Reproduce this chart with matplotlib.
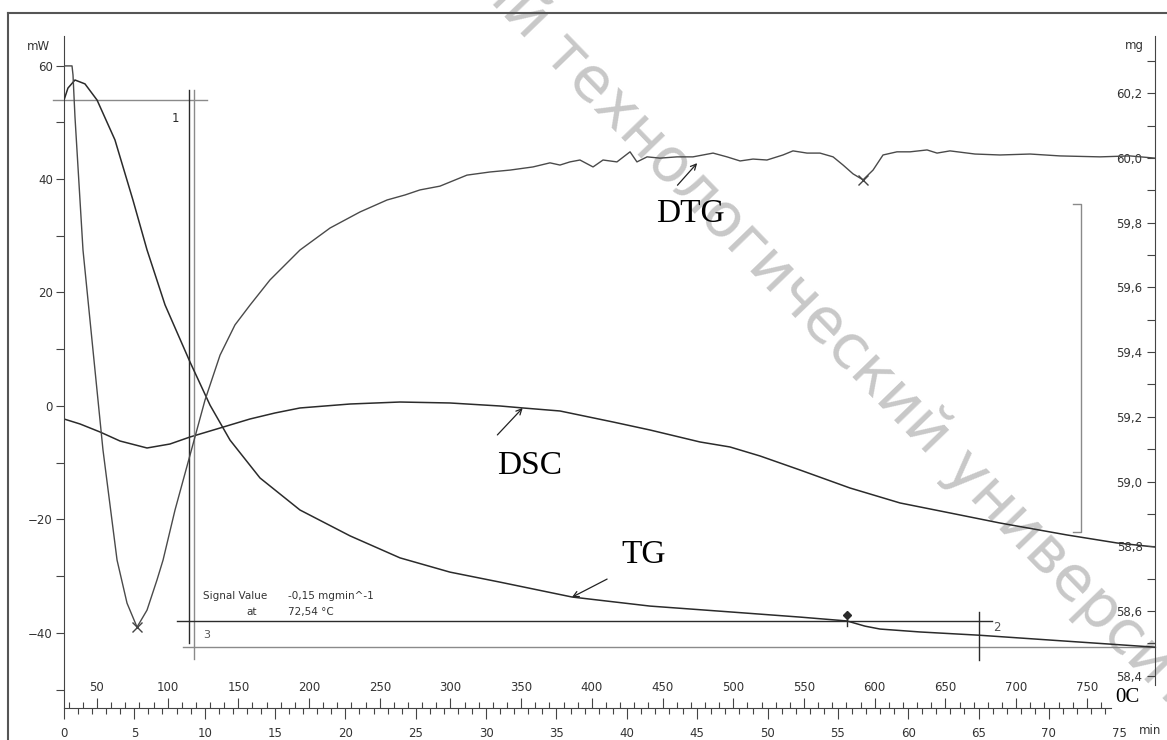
import matplotlib
matplotlib.use("Agg")
import matplotlib.pyplot as plt
import matplotlib.ticker as mticker
from matplotlib.lines import Line2D
import numpy as np

# ---------------- data ----------------
dsc_time = [0.00, 1.14, 2.56, 3.98, 5.90, 7.53, 8.96, 11.09, 13.22, 15.0, 16.77,
            20.33, 23.88, 27.43, 30.99, 32.62, 35.25, 39.02, 41.65, 45.20, 47.33,
            49.47, 52.31, 55.86, 59.42, 62.97, 66.52, 71.29, 74.84, 77.54]
dsc_mw = [-2.29, -3.17, -4.58, -6.17, -7.40, -6.70, -5.46, -3.88, -2.29, -1.23, -0.35,
          0.35, 0.70, 0.53, 0.00, -0.35, -0.88, -2.82, -4.23, -6.34, -7.22,
          -8.81, -11.28, -14.45, -17.09, -18.85, -20.62, -22.73, -24.14, -24.85]

tg_time = [0.00, 0.28, 0.78, 1.49, 2.35, 3.62, 4.90, 5.90, 7.18, 8.96, 10.38, 11.80,
           13.93, 16.77, 20.33, 23.88, 27.43, 30.99, 36.11, 41.65, 47.33, 52.31,
           55.65, 56.93, 58.00, 60.84, 65.03, 70.08, 77.54]
tg_mg = [60.179, 60.216, 60.241, 60.229, 60.179, 60.056, 59.870, 59.716, 59.546,
         59.369, 59.236, 59.128, 59.011, 58.912, 58.832, 58.764, 58.720, 58.689,
         58.643, 58.615, 58.597, 58.581, 58.569, 58.553, 58.544, 58.535, 58.525,
         58.510, 58.488]

dtg_time = [0.00, 0.57, 0.64, 0.78, 1.35, 2.06, 2.77, 3.77, 4.48, 5.19, 5.90, 6.61,
            7.04, 7.89, 8.96, 10.02, 11.09, 12.15, 13.22, 14.64, 16.77, 18.91, 21.04,
            22.96, 24.24, 25.30, 26.72, 28.64, 30.28, 31.70, 33.33, 34.54, 35.25,
            35.96, 36.67, 37.60, 38.31, 39.30, 40.23, 40.72, 41.44, 42.36, 43.57,
            44.70, 46.13, 47.12, 48.05, 48.97, 49.96, 51.10, 51.81, 52.81, 53.73,
            54.66, 55.37, 56.08, 56.79, 57.50, 58.21, 59.20, 60.13, 61.34, 62.05,
            62.97, 64.75, 66.52, 68.66, 70.79, 73.63, 75.76, 77.54]
dtg_val = [0.0283, 0.0283, 0.0254, 0.0121, -0.0302, -0.0620, -0.0937, -0.1287,
           -0.1424, -0.1500, -0.1446, -0.1350, -0.1287, -0.1128, -0.0953, -0.0779,
           -0.0636, -0.0540, -0.0477, -0.0397, -0.0302, -0.0232, -0.0181, -0.0143,
           -0.0127, -0.0111, -0.0099, -0.0064, -0.0054, -0.0048, -0.0038, -0.0025,
           -0.0032, -0.0022, -0.0016, -0.0038, -0.0016, -0.0022, 0.0010, -0.0022,
           -0.0006, -0.0010, -0.0006, -0.0006, 0.0006, -0.0006, -0.0019, -0.0013,
           -0.0016, 0.0000, 0.0013, 0.0006, 0.0006, -0.0006, -0.0032, -0.0060,
           -0.0079, -0.0048, 0.0000, 0.0010, 0.0010, 0.0016, 0.0006, 0.0013,
           0.0003, 0.0000, 0.0003, -0.0003, -0.0006, -0.0003, -0.0010]

mw_ticks = [-40, -20, 0, 20, 40, 60]
mg_ticks = [58.4, 58.6, 58.8, 59.0, 59.2, 59.4, 59.6, 59.8, 60.0, 60.2]
mg_labels = ["58,4", "58,6", "58,8", "59,0", "59,2", "59,4", "59,6", "59,8", "60,0", "60,2"]
time_ticks = list(range(0, 80, 5))
temp_ticks = list(range(50, 800, 50))

# ---------------- figure / layout ----------------
W, H = 1167, 740
fig = plt.figure(figsize=(W / 100, H / 100), dpi=100)
fig.patch.set_facecolor("white")


def fx(px):
    return px / W


def fy(py):
    return 1 - py / H


L, R, T, B = 64, 1155, 36, 708
MG_LIM = (58.300, 60.377)
ax = fig.add_axes([fx(L), fy(B), fx(R) - fx(L), fy(T) - fy(B)])
ax.patch.set_visible(False)
ax.set_xlim(0, 77.54)
ax.set_ylim(-53.22, 65.20)

INK = "#2b2b2b"
GRAY = "#8a8a8a"
TXT = "#333333"
SP = "#444444"

for s in ("top", "right"):
    ax.spines[s].set_visible(False)
ax.spines["left"].set_color(SP)
ax.spines["bottom"].set_color(SP)
ax.spines["bottom"].set_bounds(0, 74.4)

ax.yaxis.set_major_locator(mticker.FixedLocator(mw_ticks))
ax.yaxis.set_minor_locator(mticker.FixedLocator(list(range(-50, 61, 10))))
ax.tick_params(axis="y", which="both", length=6, width=0.8, color=SP,
               labelsize=8.5, labelcolor=TXT, pad=2)

ax.xaxis.set_major_locator(mticker.FixedLocator(time_ticks))
ax.xaxis.set_minor_locator(mticker.FixedLocator(list(range(0, 75))))
ax.tick_params(axis="x", which="major", length=8, width=0.8, color=SP,
               labelsize=8.5, labelcolor=TXT, pad=6)
ax.tick_params(axis="x", which="minor", length=4, width=0.8, color=SP)
fig.canvas.draw()
ax.xaxis.get_major_ticks()[-1].tick1line.set_visible(False)

# temperature scale on the same base line, ticks pointing up
axT = fig.add_axes([fx(L), fy(B), fx(R) - fx(L), 1e-6])
axT.patch.set_visible(False)
for s in axT.spines.values():
    s.set_visible(False)
axT.set_xlim(26.7, 26.7 + 9.95 * 77.54)
axT.set_yticks([])
axT.xaxis.tick_top()
axT.xaxis.set_major_locator(mticker.FixedLocator(temp_ticks))
axT.xaxis.set_minor_locator(mticker.FixedLocator(list(range(30, 770, 10))))
axT.tick_params(axis="x", which="major", length=7, width=0.8, color=SP,
                labelsize=8.5, labelcolor=TXT, pad=3, top=True, bottom=False,
                labeltop=True, labelbottom=False)
axT.tick_params(axis="x", which="minor", length=4, width=0.8, color=SP,
                top=True, bottom=False)

# TG (mg): curve on a twin, scale drawn as an inward axis at the right edge
ax2 = ax.twinx()
ax2.set_ylim(*MG_LIM)
for s in ax2.spines.values():
    s.set_visible(False)
ax2.set_yticks([])

axR = fig.add_axes([fx(R), fy(B), 1e-6, fy(T) - fy(B)])
axR.patch.set_visible(False)
axR.set_ylim(*MG_LIM)
for s in ("top", "right", "bottom"):
    axR.spines[s].set_visible(False)
axR.spines["left"].set_color(SP)
axR.spines["left"].set_bounds(58.371, MG_LIM[1])
axR.set_xticks([])
axR.yaxis.set_major_locator(mticker.FixedLocator(mg_ticks))
axR.yaxis.set_major_formatter(mticker.FixedFormatter(mg_labels))
axR.yaxis.set_minor_locator(mticker.FixedLocator([58.5, 58.7, 58.9, 59.1, 59.3, 59.5,
                                                  59.7, 59.9, 60.1, 60.3]))
axR.tick_params(axis="y", which="both", length=6, width=0.8, color=SP,
                labelsize=8.5, labelcolor=TXT, pad=3)

# DTG on a hidden scale
ax3 = ax.twinx()
ax3.set_ylim(-0.1757, 0.0378)
for s in ax3.spines.values():
    s.set_visible(False)
ax3.set_yticks([])

# ---------------- curves ----------------
ax.plot(dsc_time, dsc_mw, color=INK, lw=1.1)
ax2.plot(tg_time, tg_mg, color=INK, lw=1.1)
ax3.plot(dtg_time, dtg_val, color="#4a4a4a", lw=1.0)

dt = np.array(dtg_time)
dv = np.array(dtg_val)
i1 = int(np.argmin(dv))
mask = dt > 50
i2 = int(np.where(mask)[0][np.argmin(dv[mask])])
ax3.plot([dt[i1], dt[i2]], [dv[i1], dv[i2]], ls="none", marker="x", ms=7,
         mew=1.0, color="#444")

# TG step marker
it = tg_time.index(55.65)
ax2.plot([tg_time[it], tg_time[it]], [tg_mg[it] + 0.019, tg_mg[it] - 0.016],
         color=INK, lw=1.0)
ax2.plot([tg_time[it]], [tg_mg[it] + 0.019], marker="D", ms=4, color=INK)

# ---------------- construction lines ----------------
kw = dict(clip_on=False, lw=1.0)
ax.plot([-0.78, 10.16], [53.9, 53.9], color=GRAY, **kw)
ax.plot([8.88, 8.88], [55.7, -41.8], color=INK, **kw)
ax.plot([9.24, 9.24], [55.7, -44.6], color=GRAY, **kw)
ax.plot([8.03, 65.96], [-37.9, -37.9], color=INK, **kw)
ax.plot([8.46, 77.54], [-42.5, -42.5], color=GRAY, **kw)
ax.plot([65.03, 65.03], [-36.3, -44.8], color=INK, **kw)
ax.plot([71.71, 72.28, 72.28, 71.71], [35.6, 35.6, -22.2, -22.2], color=GRAY, **kw)

ax.text(7.89, 50.7, "1", fontsize=8.5, color=INK, ha="center", va="center")
ax.text(9.88, -40.4, "3", fontsize=8, color="#555", ha="left", va="center")
ax.text(66.0, -39.1, "2", fontsize=8.5, color="#555", ha="left", va="center")

ax.text(9.88, -33.5, "Signal Value", fontsize=7.5, color=TXT, ha="left", va="center")
ax.text(15.92, -33.5, "-0,15 mgmin^-1", fontsize=7.5, color=TXT, ha="left", va="center")
ax.text(13.36, -36.3, "at", fontsize=7.5, color=TXT, ha="center", va="center")
ax.text(15.92, -36.3, "72,54 °C", fontsize=7.5, color=TXT, ha="left", va="center")

# ---------------- curve labels ----------------
serif = "Liberation Serif"
ax.text(44.5, 33.8, "DTG", family=serif, fontsize=24, color="black",
        ha="center", va="center")
ax.text(33.1, -10.6, "DSC", family=serif, fontsize=24, color="black",
        ha="center", va="center")
ax.text(41.2, -26.3, "TG", family=serif, fontsize=24, color="black",
        ha="center", va="center")
ap = dict(arrowstyle="->", color="#222", lw=0.9, shrinkA=0, shrinkB=0)
ax.annotate("", xy=(45.0, 42.8), xytext=(43.6, 38.9), arrowprops=ap)
ax.annotate("", xy=(32.6, -0.35), xytext=(30.8, -5.1), arrowprops=ap)
ax.annotate("", xy=(36.1, -33.7), xytext=(38.6, -30.5), arrowprops=ap)

# axis units
fig.text(fx(38), fy(46), "mW", fontsize=8.5, color=TXT, ha="center", va="center")
fig.text(fx(1134), fy(46), "mg", fontsize=8.5, color=TXT, ha="center", va="center")
fig.text(fx(1150), fy(730), "min", fontsize=8.5, color=TXT, ha="center", va="center")
fig.text(fx(1127), fy(698), "0C", family=serif, fontsize=15, color="black",
         ha="center", va="center")

# outer frame
fig.add_artist(Line2D([fx(8), 1.0], [fy(13), fy(13)], transform=fig.transFigure,
                      color="#555", lw=1.5))
fig.add_artist(Line2D([fx(8), fx(8)], [fy(13), 0.0], transform=fig.transFigure,
                      color="#555", lw=1.5))

# watermark
fig.text(fx(484), fy(-27), "ий технологический университет", fontsize=44,
         color="#c8c8c8", rotation=-46, rotation_mode="anchor", ha="left",
         va="center", zorder=-1)

fig.savefig("out.png", dpi=100, facecolor="white")
